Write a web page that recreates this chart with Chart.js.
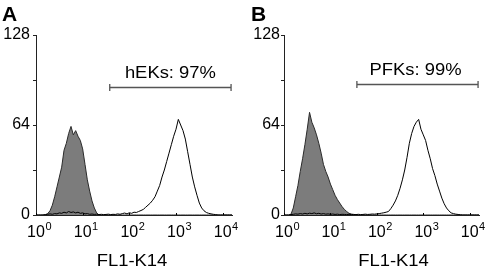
<!DOCTYPE html>
<html>
<head>
<meta charset="utf-8">
<script src="https://cdn.jsdelivr.net/npm/chart.js@4.4.1/dist/chart.umd.min.js"></script>
<style>
  html, body { margin: 0; padding: 0; background: #fff; }
  #wrap { position: relative; width: 493px; height: 269px; }
  .panel { position: absolute; top: 0; }
</style>
</head>
<body>
<div id="wrap">
  <canvas id="panelA" class="panel" width="246" height="269" style="left:0"></canvas>
  <canvas id="panelB" class="panel" width="247" height="269" style="left:246px"></canvas>
</div>
<script>
const FONT = '"Liberation Sans", Arial, Helvetica, sans-serif';

// log10 fluorescence channels (decades)
const channels = [
  0, 0.05, 0.1, 0.15, 0.2, 0.25, 0.3, 0.35, 0.4, 0.45,
  0.5, 0.55, 0.6, 0.65, 0.7, 0.75, 0.8, 0.85, 0.9, 0.95,
  1, 1.05, 1.1, 1.15, 1.2, 1.25, 1.3, 1.35, 1.4, 1.45,
  1.5, 1.55, 1.6, 1.65, 1.7, 1.75, 1.8, 1.85, 1.9, 1.95,
  2, 2.05, 2.1, 2.15, 2.2, 2.25, 2.3, 2.35, 2.4, 2.45,
  2.5, 2.55, 2.6, 2.65, 2.7, 2.75, 2.8, 2.85, 2.9, 2.95,
  3, 3.05, 3.1, 3.15, 3.2, 3.25, 3.3, 3.35, 3.4, 3.45,
  3.5, 3.55, 3.6, 3.65, 3.7, 3.75, 3.8, 3.85, 3.9, 3.95,
  4, 4.05, 4.1, 4.15, 4.2
];

// panel A - hEKs
const hEKsControl = [
  0, 0, 0, 0, 0.2, 1, 3, 7, 13, 20,
  27, 34, 46, 51, 58, 63, 57, 60, 56, 53,
  47, 36, 25, 17, 10, 5, 1.5, 0, 0, 0,
  0, 0, 0, 0, 0, 0, 0, 0, 0, 0,
  0, 0, 0, 0, 0, 0, 0, 0, 0, 0,
  0, 0, 0, 0, 0, 0, 0, 0, 0, 0,
  0, 0, 0, 0, 0, 0, 0, 0, 0, 0,
  0, 0, 0, 0, 0, 0, 0, 0, 0, 0,
  0, 0, 0, 0, 0
];
const hEKsK14 = [
  0, 0, 0, 0, 0.3, 0.5, 0.8, 0.5, 1, 0.8,
  1.5, 1.2, 2, 1.5, 2.5, 1.8, 2.2, 1.5, 2, 1.2,
  1.5, 0.8, 1, 0.5, 0.7, 0.4, 0.6, 0.3, 0.5, 0.3,
  0.4, 0.6, 0.3, 0.5, 0.4, 0.8, 0.5, 1, 1.4, 0.8,
  1.6, 1.2, 2, 1.8, 2.5, 3.2, 4, 5.5, 7, 8.5,
  10.5, 13, 17, 21, 27, 32, 38, 44, 50, 56,
  61, 68, 64, 60, 54, 45, 36, 27, 20, 14,
  8.5, 5, 3, 1.8, 1.2, 0.8, 0.5, 0.3, 0, 0,
  0, 0, 0, 0, 0
];

// panel B - PFKs
const pfksControl = [
  0, 0, 0, 0.5, 5, 13, 21, 31, 40, 50,
  61, 73, 66, 62, 57, 51, 44, 36, 31, 27,
  22, 18, 14, 11, 8.5, 6, 4, 2.5, 1.2, 0.7,
  0.4, 0.2, 0, 0, 0, 0, 0, 0, 0, 0,
  0, 0, 0, 0, 0, 0, 0, 0, 0, 0,
  0, 0, 0, 0, 0, 0, 0, 0, 0, 0,
  0, 0, 0, 0, 0, 0, 0, 0, 0, 0,
  0, 0, 0, 0, 0, 0, 0, 0, 0, 0,
  0, 0, 0, 0, 0
];
const pfksK14 = [
  0, 0, 0, 0.3, 0.5, 0.8, 0.6, 1, 0.7, 1.2,
  0.8, 1.3, 1, 1.5, 0.9, 1.2, 0.7, 1, 0.6, 0.8,
  0.5, 0.7, 0.4, 0.6, 0.3, 0.5, 0.4, 0.3, 0.5, 0.3,
  0.4, 0.3, 0.5, 0.3, 0.4, 0.6, 0.4, 0.5, 0.7, 0.6,
  0.8, 1, 1.3, 1.6, 2, 2.5, 4.5, 7, 10, 14,
  19, 25, 32, 41, 51, 58, 63, 66, 68, 61,
  57, 53, 46, 40, 33, 28, 22, 17, 12, 8,
  5, 3, 1.5, 1, 0.6, 0.4, 0.2, 0, 0, 0,
  0, 0, 0, 0, 0
];

// axis ticks
const decades = [0, 1, 2, 3, 4];
const countTicks = [0, 32, 64, 96, 128];
const countLabels = [0, 64, 128];

// marker gates
const gateA = [1.58, 4.18];
const gateLevelA = 91;
const gateTextA = 'hEKs: 97%';
const gateB = [1.57, 4.18];
const gateLevelB = 93;
const gateTextB = 'PFKs: 99%';

function toPoints(counts) {
  return channels.map((c, i) => ({ x: c, y: counts[i] }));
}

// draws panel letter, decade labels, gate marker and axis title
const decorPlugin = {
  id: 'decor',
  afterDraw(chart, args, o) {
    const ctx = chart.ctx;
    const xs = chart.scales.x, ys = chart.scales.y;
    ctx.save();
    ctx.fillStyle = '#000';
    ctx.strokeStyle = '#000';

    ctx.font = 'bold 21px ' + FONT;
    ctx.textAlign = 'left';
    ctx.textBaseline = 'alphabetic';
    ctx.fillText(o.letter, o.letterX, 21);

    // decade labels 10^n
    decades.forEach(d => {
      const px = xs.getPixelForValue(d);
      ctx.font = '16px ' + FONT;
      ctx.textAlign = 'center';
      ctx.fillText('10', px, 237);
      const w = ctx.measureText('10').width;
      ctx.font = '11px ' + FONT;
      ctx.textAlign = 'left';
      ctx.fillText(String(d), px + w / 2 + 0.5, 230);
      // small tick on the axis
      ctx.lineWidth = 1;
      ctx.beginPath();
      ctx.moveTo(Math.round(px) + 0.5, ys.bottom);
      ctx.lineTo(Math.round(px) + 0.5, ys.bottom - 2);
      ctx.stroke();
    });

    // gate marker
    const x0 = xs.getPixelForValue(o.gate[0]);
    const x1 = xs.getPixelForValue(o.gate[1]);
    const gy = Math.round(ys.getPixelForValue(o.gateLevel)) + 0.5;
    ctx.strokeStyle = '#555';
    ctx.lineWidth = 1.3;
    ctx.beginPath();
    ctx.moveTo(x0, gy); ctx.lineTo(x1, gy);
    ctx.moveTo(x0, gy - 3.5); ctx.lineTo(x0, gy + 3.5);
    ctx.moveTo(x1, gy - 3.5); ctx.lineTo(x1, gy + 3.5);
    ctx.stroke();

    ctx.save();
    ctx.translate((x0 + x1) / 2 + o.gateTextDx, gy - 10);
    ctx.scale(1.15, 1);
    ctx.font = '16px ' + FONT;
    ctx.textAlign = 'center';
    ctx.fillText(o.gateText, 0, 0);
    ctx.restore();

    // axis title
    ctx.save();
    ctx.translate((xs.left + xs.right) / 2 + o.titleDx, 266);
    ctx.scale(1.15, 1);
    ctx.font = '16px ' + FONT;
    ctx.textAlign = 'center';
    ctx.fillText('FL1-K14', 0, 0);
    ctx.restore();

    ctx.restore();
  }
};

function makePanel(id, control, k14, deco) {
  return new Chart(document.getElementById(id), {
    type: 'line',
    data: {
      datasets: [
        {
          data: toPoints(k14),
          borderColor: '#000',
          borderWidth: 1,
          backgroundColor: 'rgba(0,0,0,0)',
          fill: false,
          pointRadius: 0,
          tension: 0,
          order: 0
        },
        {
          data: toPoints(control),
          borderColor: '#2a2a2a',
          borderWidth: 1,
          backgroundColor: '#7c7c7c',
          fill: 'origin',
          pointRadius: 0,
          tension: 0,
          order: 1
        }
      ]
    },
    options: {
      responsive: false,
      animation: false,
      devicePixelRatio: 1,
      layout: { padding: { top: 35, right: 14, left: 0, bottom: 0 } },
      plugins: { legend: { display: false }, tooltip: { enabled: false }, decor: deco },
      scales: {
        x: {
          type: 'linear',
          min: 0,
          max: 4.2,
          ticks: { display: false },
          grid: { display: false },
          border: { display: true, color: '#222', width: 1 },
          afterFit: s => { s.height = 54; }
        },
        y: {
          min: 0,
          max: 128,
          afterBuildTicks: s => { s.ticks = countTicks.map(v => ({ value: v })); },
          ticks: {
            autoSkip: false,
            color: '#000',
            font: { family: FONT, size: 16 },
            padding: deco.yPad,
            callback: v => countLabels.includes(v) ? String(v) : ''
          },
          grid: { drawOnChartArea: false, drawTicks: true, tickLength: 3, color: '#222' },
          border: { display: true, color: '#222', width: 1 },
          afterFit: s => { s.width = deco.yWidth; }
        }
      }
    },
    plugins: [decorPlugin]
  });
}

makePanel('panelA', hEKsControl, hEKsK14, {
  letter: 'A', letterX: 2, yWidth: 36, yPad: 3,
  gate: gateA, gateLevel: gateLevelA, gateText: gateTextA, gateTextDx: 0, titleDx: -2
});
makePanel('panelB', pfksControl, pfksK14, {
  letter: 'B', letterX: 5, yWidth: 38, yPad: 1,
  gate: gateB, gateLevel: gateLevelB, gateText: gateTextB, gateTextDx: -2, titleDx: 12
});
</script>
</body>
</html>
